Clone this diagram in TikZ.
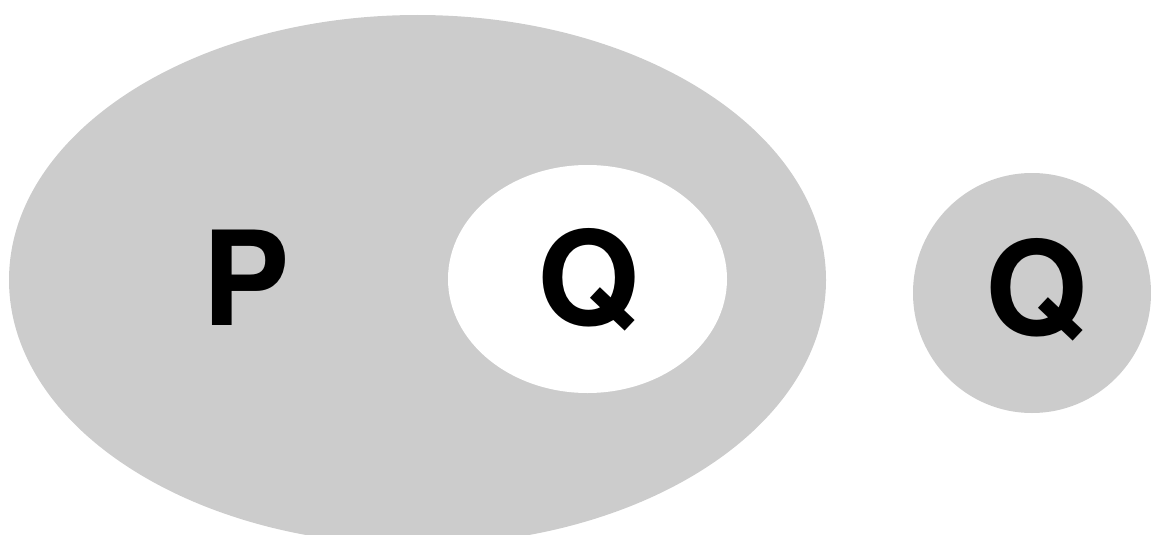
\documentclass[tikz,border=0pt]{standalone}
\usepackage{fontspec}
\setmainfont{TeX Gyre Heros}
\usetikzlibrary{shapes.geometric}
\definecolor{setgray}{HTML}{CCCCCC}

\begin{document}
\begin{tikzpicture}[
        x=1pt, y=-1pt,
        set/.style={ellipse, inner sep=0pt, draw=none},
        letter/.style={anchor=base, inner sep=0pt, font=\fontsize{131}{131}\selectfont\bfseries}
    ]
        \useasboundingbox (0,0) rectangle (1151,535);

        % Set P
        \node[set, fill=setgray, minimum width=817pt, minimum height=530pt] (setP) at (417.5,280) {};

        % Subset Q inside P
        \node[set, fill=white, minimum width=279pt, minimum height=228pt] (subQ) at (587.5,279) {};

        % Set Q on its own
        \node[set, fill=setgray, minimum width=238pt, minimum height=240pt] (setQ) at (1032,293) {};

        % Labels
        \node[letter] (labelP) at (246,325) {P};
        \node[letter] (labelQin) at (588,325) {Q};
        \node[letter] (labelQout) at (1036,335) {Q};
    \end{tikzpicture}
\end{document}
